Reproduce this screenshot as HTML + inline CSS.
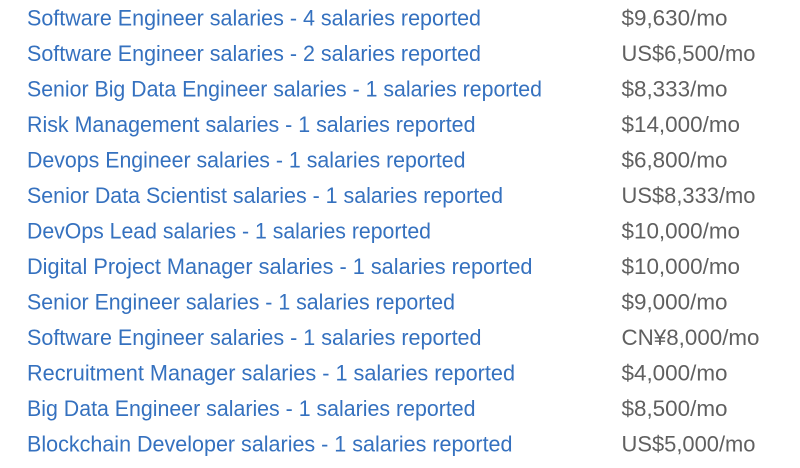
<!DOCTYPE html>
<html>
<head>
<meta charset="utf-8">
<style>
html,body{margin:0;padding:0;background:#fff;}
body{width:800px;height:468px;overflow:hidden;}
svg{display:block;}
.l{fill:#3571bf;font-family:"Liberation Sans","Noto Sans CJK SC",sans-serif;font-size:22px;}
.r{fill:#606060;font-family:"Liberation Sans","Noto Sans CJK SC",sans-serif;font-size:22px;}
</style>
</head>
<body>
<svg width="800" height="468" viewBox="0 0 800 468" xmlns="http://www.w3.org/2000/svg">
<g class="l">
<text x="27" y="25.5" textLength="454" lengthAdjust="spacingAndGlyphs">Software Engineer salaries - 4 salaries reported</text>
<text x="27" y="61" textLength="454" lengthAdjust="spacingAndGlyphs">Software Engineer salaries - 2 salaries reported</text>
<text x="27" y="96.5" textLength="515" lengthAdjust="spacingAndGlyphs">Senior Big Data Engineer salaries - 1 salaries reported</text>
<text x="27" y="132" textLength="448.5" lengthAdjust="spacingAndGlyphs">Risk Management salaries - 1 salaries reported</text>
<text x="27" y="167.5" textLength="438.5" lengthAdjust="spacingAndGlyphs">Devops Engineer salaries - 1 salaries reported</text>
<text x="27" y="203" textLength="476" lengthAdjust="spacingAndGlyphs">Senior Data Scientist salaries - 1 salaries reported</text>
<text x="27" y="238.5" textLength="404" lengthAdjust="spacingAndGlyphs">DevOps Lead salaries - 1 salaries reported</text>
<text x="27" y="274" textLength="505.5" lengthAdjust="spacingAndGlyphs">Digital Project Manager salaries - 1 salaries reported</text>
<text x="27" y="309.5" textLength="428" lengthAdjust="spacingAndGlyphs">Senior Engineer salaries - 1 salaries reported</text>
<text x="27" y="345" textLength="454.5" lengthAdjust="spacingAndGlyphs">Software Engineer salaries - 1 salaries reported</text>
<text x="27" y="380.5" textLength="488" lengthAdjust="spacingAndGlyphs">Recruitment Manager salaries - 1 salaries reported</text>
<text x="27" y="416" textLength="448.5" lengthAdjust="spacingAndGlyphs">Big Data Engineer salaries - 1 salaries reported</text>
<text x="27" y="451.5" textLength="485.5" lengthAdjust="spacingAndGlyphs">Blockchain Developer salaries - 1 salaries reported</text>
</g>
<g class="r">
<text x="621.5" y="25.5" textLength="106" lengthAdjust="spacingAndGlyphs">$9,630/mo</text>
<text x="621.5" y="61" textLength="134" lengthAdjust="spacingAndGlyphs">US$6,500/mo</text>
<text x="621.5" y="96.5" textLength="106" lengthAdjust="spacingAndGlyphs">$8,333/mo</text>
<text x="621.5" y="132" textLength="118.5" lengthAdjust="spacingAndGlyphs">$14,000/mo</text>
<text x="621.5" y="167.5" textLength="106" lengthAdjust="spacingAndGlyphs">$6,800/mo</text>
<text x="621.5" y="203" textLength="134" lengthAdjust="spacingAndGlyphs">US$8,333/mo</text>
<text x="621.5" y="238.5" textLength="118.5" lengthAdjust="spacingAndGlyphs">$10,000/mo</text>
<text x="621.5" y="274" textLength="118.5" lengthAdjust="spacingAndGlyphs">$10,000/mo</text>
<text x="621.5" y="309.5" textLength="106" lengthAdjust="spacingAndGlyphs">$9,000/mo</text>
<text x="621.5" y="345" textLength="138" lengthAdjust="spacingAndGlyphs">CN¥8,000/mo</text>
<text x="621.5" y="380.5" textLength="106" lengthAdjust="spacingAndGlyphs">$4,000/mo</text>
<text x="621.5" y="416" textLength="106" lengthAdjust="spacingAndGlyphs">$8,500/mo</text>
<text x="621.5" y="451.5" textLength="134" lengthAdjust="spacingAndGlyphs">US$5,000/mo</text>
</g>
</svg>
</body>
</html>
